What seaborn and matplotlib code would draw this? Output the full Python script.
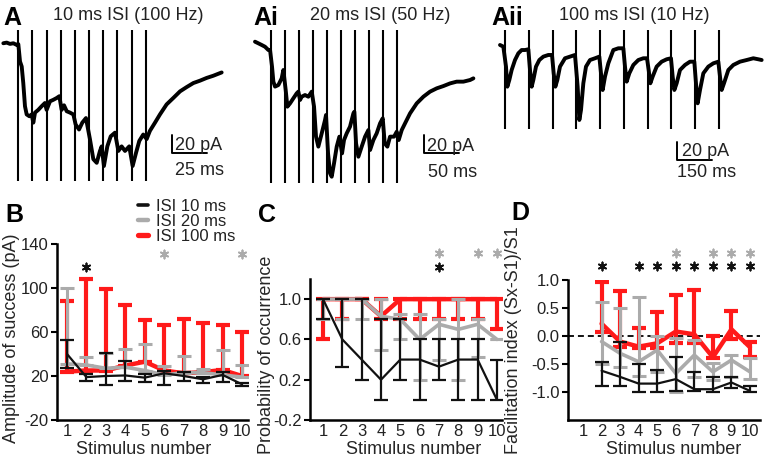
import pandas as pd
import seaborn as sns
import matplotlib.pyplot as plt
from matplotlib.lines import Line2D
from matplotlib.transforms import offset_copy

W, H = 766, 468

RED = "#ff1a1a"
GRAY = "#ababab"
BLACK = "#111111"
TXT = "#222222"

# ---- example recordings (time in ms, current in pA) ----
stim_a = [0, 10, 20, 30, 40, 50, 60, 70, 80, 90]
trace_a_t = [-10.6, -8.2, -5.9, -3.5, -1.2, 0, 1.2, 2.4, 3.5, 4.7, 5.9, 7.8, 9.4, 10.6, 11.8,
             14.1, 16.5, 18.8, 20, 22.4, 24.7, 27.1, 29, 30.6, 32.3, 34.2, 36.5, 38.9, 40.5,
             42.9, 45.2, 47.8, 50.6, 53, 55.4, 57.7, 58.9, 60.5, 62.9, 65.3, 68.3, 70.7, 73,
             75.4, 78.4, 80.8, 83.2, 85.5, 88.3, 90.7, 93, 96.6, 100.1, 104.8, 109.5, 114.3,
             119, 123.7, 128.4, 133.1, 137.8, 143.7]
trace_a_i = [0, 0.7, -0.7, 0, -1.8, -1, -20, -25.5, -43.6, -69, -78, -80, -78, -87, -76,
             -73, -69, -65.5, -73, -63.6, -62, -60, -58, -73, -68, -74.5, -76, -78, -89,
             -94.5, -87, -82, -105, -127, -131, -118, -113, -134.5, -113, -102, -98, -118, -113,
             -118, -113, -134.5, -120, -107, -100, -105, -96, -87, -78, -67, -60, -52.7,
             -48, -43.6, -41, -38, -35.6, -32]

stim_ai = [0, 20, 40, 60, 80, 100, 120, 140, 160, 180]
trace_ai_t = [-22.3, -17.5, -12.8, -8.1, -3.3, -0.9, 1.9, 3.8, 6.2, 10.9, 15.6, 18, 21.3, 23.7,
              27.5, 32.2, 36.9, 39.3, 41.7, 44.1, 48.8, 53.5, 58.3, 61.6, 64.4, 67.7, 72.5,
              77.2, 78.6, 81.5, 84.3, 86.7, 90, 93.8, 97.6, 101.4, 104.2, 108, 112.7, 117.5,
              118.9, 121.3, 124.6, 129.3, 134.1, 138.8, 141.2, 145.9, 150.6, 155.4, 159.2, 162,
              165.8, 169.6, 175.3, 179.1, 181.9, 186.2, 190.9, 198, 207.5, 217, 226.4, 235.9,
              245.4, 254.9, 264.3, 273.8, 283.3, 288]
trace_ai_i = [0, -1.8, -3.6, -5.5, -9.1, -9.1, -27.3, -43.6, -49, -47.3, -40, -30.9, -52.7, -70.9,
              -67.3, -61.8, -56.4, -54.5, -63.6, -60, -58.2, -60, -54.5, -70.9, -103.6, -114.5,
              -100, -85.5, -80, -121.8, -143.6, -147.3, -132.7, -114.5, -103.6, -121.8, -107.3,
              -100, -92.7, -78.2, -76.4, -110.9, -125.5, -114.5, -103.6, -96.4, -118.2, -107.3,
              -100, -89.1, -83.6, -110.9, -114.5, -103.6, -103.6, -98.2, -107.3, -96.4, -89.1,
              -78.2, -67.3, -60, -54.5, -50.9, -48.4, -45.5, -43.6, -43.6, -41.8, -40]

stim_aii = [0, 100, 200, 300, 400, 500, 600, 700, 800, 900]
trace_aii_t = [-21, -7, 4.2, 9.8, 18.2, 28, 42.1, 56.1, 70.1, 84.2, 98.2, 105.2, 112.2, 119.2,
               130.4, 144.5, 161.3, 182.3, 197.8, 204.8, 211.8, 220.2, 231.4, 252.5, 273.5,
               294.5, 305.7, 312.8, 319.8, 329.6, 340.8, 357.6, 378.7, 396.9, 403.9, 410.9,
               420.8, 434.8, 455.8, 476.9, 497.9, 504.9, 511.9, 523.1, 540, 561, 582, 597.5,
               604.5, 611.5, 621.3, 638.1, 659.2, 680.2, 698.4, 705.5, 712.5, 722.3, 736.3,
               757.4, 778.4, 796.6, 803.6, 810.6, 820.5, 834.5, 855.5, 876.6, 897.6, 904.6,
               911.6, 921.4, 939.7, 960.7, 988.8, 1016.8, 1044.9, 1065.9, 1079.9]
trace_aii_i = [0, -1.8, -23.6, -45.5, -38.2, -27.3, -16.4, -9.1, -5.5, -5.5, -4.7, -27.3, -45.5,
               -38.2, -23.6, -16.4, -12.7, -10.9, -10.9, -30.9, -45.5, -38.2, -23.6, -14.5,
               -12.7, -10.9, -45.5, -81.8, -70.9, -41.8, -23.6, -16.4, -14.5, -12.7, -30.9,
               -49.1, -34.5, -20, -5.5, -3.6, -3.6, -23.6, -40, -30.9, -21.8, -16.4, -14.5,
               -14.5, -27.3, -41.8, -34.5, -23.6, -18.2, -15.6, -14.5, -34.5, -49.1, -41.8,
               -27.3, -21.8, -18.2, -18.2, -41.8, -63.6, -49.1, -30.9, -23.6, -20, -18.2,
               -34.5, -49.1, -41.8, -27.3, -21.8, -18.2, -16.4, -14.5, -15.6, -16.4]

# ---- summary data ----
stim = [1, 2, 3, 4, 5, 6, 7, 8, 9, 10]
stim_d = [2, 3, 4, 5, 6, 7, 8, 9, 10]
isi_labels = ["ISI 10 ms", "ISI 20 ms", "ISI 100 ms"]

# B: amplitude of success (pA)
b_10_mean = [40, 19, 20, 20.5, 18.5, 22.5, 20, 17, 21, 12.5]
b_10_lo = [27, 15.5, 11.5, 15.5, 14.5, 11.5, 15.5, 14, 14.5, 11]
b_10_hi = [53, 22, 40.5, 33.5, 22, 25, 24, 19, 23.5, 14]
b_20_mean = [31, 30, 27, 28, 25, 21, 23, 23, 21, 19]
b_20_hi = [100, 37.5, 41, 45, 49, 29, 38.5, 26.5, 43.5, 30]
b_100_mean = [24, 25, 25, 29.5, 33, 25, 22.5, 23.5, 25.5, 20]
b_100_hi = [88, 108, 99, 85, 71, 66, 71.5, 68, 66, 60]

# C: probability of occurrence
c_10_mean = [1.0, 0.6, 0.4, 0.2, 0.4, 0.4, 0.33, 0.4, 0.4, 0.0]
c_10_lo = [0.8, 0.33, 0.2, 0.0, 0.2, 0.0, 0.2, 0.0, 0.0, 0.0]
c_10_hi = [1.0, 1.0, 1.0, 0.8, 0.8, 0.6, 0.6, 0.6, 0.6, 0.4]
c_20_mean = [1.0, 1.0, 1.0, 0.83, 0.8, 0.6, 0.75, 0.7, 0.75, 0.6]
c_20_lo = [0.8, 0.8, 0.8, 0.5, 0.6, 0.2, 0.4, 0.2, 0.43, 0.6]
c_20_hi = [1.0, 1.0, 1.0, 1.0, 0.85, 0.85, 0.8, 1.0, 0.8, 0.6]
c_100_mean = [1.0, 1.0, 1.0, 0.83, 1.0, 1.0, 1.0, 1.0, 1.0, 1.0]
c_100_lo = [0.6, 0.8, 1.0, 0.8, 0.8, 0.8, 0.8, 0.8, 0.8, 0.7]
c_100_hi = [1.0, 1.0, 1.0, 1.0, 1.0, 1.0, 1.0, 1.0, 1.0, 1.0]

# D: facilitation index (Sx-S1)/S1, stimuli 2-10
d_10_mean = [-0.62, -0.73, -0.85, -0.85, -0.77, -0.95, -0.95, -0.83, -0.98]
d_10_lo = [-0.89, -0.9, -1.0, -1.0, -0.99, -0.98, -1.0, -0.93, -1.0]
d_10_hi = [-0.46, -0.1, -0.5, -0.61, -0.37, -0.65, -0.73, -0.73, -0.9]
d_20_mean = [-0.1, -0.31, -0.46, -0.25, -0.67, -0.34, -0.64, -0.43, -0.64]
d_20_lo = [-0.5, -0.55, -0.71, -0.64, -1.0, -0.74, -0.79, -0.73, -0.76]
d_20_hi = [0.6, 0.5, 0.7, 0.0, -0.04, -0.07, -0.48, -0.34, -0.4]
d_100_mean = [0.22, -0.1, -0.19, -0.13, 0.08, 0.03, -0.38, 0.12, -0.2]
d_100_lo = [0.08, -0.2, -0.22, -0.22, -0.12, -0.12, -0.4, -0.06, -0.37]
d_100_hi = [0.97, 0.8, 0.14, 0.43, 0.73, 0.83, 0.0, 0.45, -0.1]

# significance marks (stimulus numbers)
stars_b = {"10": [2], "20": [6, 10]}
stars_c = {"10": [7], "20": [7, 9, 10]}
stars_d = {"10": [2, 4, 5, 6, 7, 8, 9, 10], "20": [6, 8, 9, 10]}

sns.set_theme(style="ticks")
plt.rcParams["font.family"] = ["Liberation Sans", "DejaVu Sans"]
plt.rcParams["axes.unicode_minus"] = False
plt.rcParams["text.color"] = TXT
plt.rcParams["xtick.labelcolor"] = TXT
plt.rcParams["ytick.labelcolor"] = TXT

fig = plt.figure(figsize=(W / 100, H / 100), dpi=100)


def rect(x0, y0, x1, y1):
    # pixel box -> figure fraction
    return [x0 / W, 1 - y1 / H, (x1 - x0) / W, (y1 - y0) / H]


def draw_trace(box, t, cur, stims, art, xlim, ylim, bar, bar_ms, pa_off, ms_off):
    ax = fig.add_axes(rect(*box))
    sns.lineplot(x=t, y=cur, ax=ax, color="black", lw=2.8, sort=False, estimator=None)
    ax.vlines(stims, art[1], art[0], color="black", lw=1.5)
    bt, bi = bar
    ax.plot([bt, bt, bt + bar_ms], [bi + 20, bi, bi], color="black", lw=1.4)
    ax.text(bt, bi, "20 pA", fontsize=13, ha="left", va="center",
            transform=offset_copy(ax.transData, fig=fig, x=pa_off[0], y=pa_off[1], units="dots"))
    ax.text(bt, bi, f"{bar_ms} ms", fontsize=13, ha="left", va="center",
            transform=offset_copy(ax.transData, fig=fig, x=ms_off[0], y=ms_off[1], units="dots"))
    ax.set_xlim(xlim)
    ax.set_ylim(ylim)
    ax.axis("off")


draw_trace((0, 25, 230, 190), trace_a_t, trace_a_i, stim_a, (14.5, -151),
           (-12.95, 149.6), (-160.8, 20), (108.4, -120.1), 25, (3.5, 7), (3.5, -18))
draw_trace((250, 25, 480, 190), trace_ai_t, trace_ai_i, stim_ai, (12.7, -153.8),
           (-29.4, 297.4), (-161.8, 18.2), (217.9, -121.8), 50, (3.3, 6.6), (4.3, -19))
draw_trace((498, 25, 766, 190), trace_aii_t, trace_aii_i, stim_aii, (16.4, -92),
           (-29.45, 1098.2), (-158.2, 21.8), (722.4, -125.5), 150, (5, 8.3), (0, -12))


def draw_series(ax, x, mean, lo, hi, color, lw, elw, z):
    lo = mean if lo is None else lo
    yerr = [[m - l for m, l in zip(mean, lo)], [h - m for m, h in zip(mean, hi)]]
    ax.errorbar(x, mean, yerr=yerr, fmt="none", ecolor=color, elinewidth=elw,
                capsize=5, capthick=elw, zorder=z)
    sns.lineplot(x=x, y=mean, ax=ax, color=color, lw=lw, zorder=z, estimator=None)


def style_axis(ax, xlim, ylim, yticks, yticklabels, ylab, ylab_xy, xlab_xy):
    ax.set_xlim(xlim)
    ax.set_ylim(ylim)
    ax.set_xticks(stim)
    ax.set_xticklabels([str(s) for s in stim])
    ax.set_yticks(yticks)
    ax.set_yticklabels(yticklabels)
    sns.despine(ax=ax)
    for s in ("left", "bottom"):
        ax.spines[s].set_linewidth(1.8)
        ax.spines[s].set_color("black")
    ax.tick_params(axis="y", length=4, width=1.5, labelsize=12, pad=2, color="black")
    ax.tick_params(axis="x", length=0, labelsize=12, pad=3)
    ax.set_xlabel("Stimulus number", fontsize=13)
    ax.xaxis.set_label_coords(*xlab_xy)
    ax.set_ylabel(ylab, fontsize=13)
    ax.yaxis.set_label_coords(*ylab_xy)


def draw_stars(ax, xs, y, color):
    # six-armed asterisks marking significant stimuli
    ax.scatter(xs, [y] * len(xs), marker=(6, 2, 0), s=34, color=color,
               linewidths=1.3, clip_on=False, zorder=5)


# B
ax_b = fig.add_axes(rect(57, 244, 248, 420))
draw_series(ax_b, stim, b_100_mean, None, b_100_hi, RED, 3.2, 3.0, 2)
draw_series(ax_b, stim, b_20_mean, None, b_20_hi, GRAY, 2.6, 2.2, 3)
draw_series(ax_b, stim, b_10_mean, b_10_lo, b_10_hi, BLACK, 1.6, 1.6, 4)
style_axis(ax_b, (0.486, 10.31), (-20, 140), [-20, 20, 60, 100, 140],
           ["-20", "20", "60", "100", "140"], "Amplitude of success (pA)",
           (-0.194, 0.466), (0.455, -0.122))
draw_stars(ax_b, stars_b["10"], 119, BLACK)
draw_stars(ax_b, stars_b["20"], 131, GRAY)

# C
ax_c = fig.add_axes(rect(310, 279, 502, 420))
draw_series(ax_c, stim, c_100_mean, c_100_lo, c_100_hi, RED, 3.2, 3.0, 2)
draw_series(ax_c, stim, c_20_mean, c_20_lo, c_20_hi, GRAY, 2.6, 2.2, 3)
draw_series(ax_c, stim, c_10_mean, c_10_lo, c_10_hi, BLACK, 1.6, 1.6, 4)
style_axis(ax_c, (0.327, 10.26), (-0.2, 1.2), [-0.2, 0.2, 0.6, 1.0],
           ["-0.2", "0.2", "0.6", "1.0"], "Probability of occurrence",
           (-0.182, 0.461), (0.54, -0.152))
draw_stars(ax_c, stars_c["10"], 1.32, BLACK)
draw_stars(ax_c, stars_c["20"], 1.46, GRAY)

# D
ax_d = fig.add_axes(rect(568, 280, 760, 420))
ax_d.axhline(0, color="black", lw=1.3, ls=(0, (3.3, 2.2)), zorder=1)
draw_series(ax_d, stim_d, d_100_mean, d_100_lo, d_100_hi, RED, 3.2, 3.0, 2)
draw_series(ax_d, stim_d, d_20_mean, d_20_lo, d_20_hi, GRAY, 2.6, 2.2, 3)
draw_series(ax_d, stim_d, d_10_mean, d_10_lo, d_10_hi, BLACK, 1.6, 1.6, 4)
style_axis(ax_d, (0.19, 10.54), (-1.5, 1.0), [-1.0, -0.5, 0.0, 0.5, 1.0],
           ["-1.0", "-0.5", "0.0", "0.5", "1.0"], "Facilitation index (Sx-S1)/S1",
           (-0.24, 0.571), (0.55, -0.152))
draw_stars(ax_d, stars_d["10"], 1.25, BLACK)
draw_stars(ax_d, stars_d["20"], 1.48, GRAY)

# legend for B
handles = [Line2D([], [], color=BLACK, lw=2.6), Line2D([], [], color=GRAY, lw=3.2),
           Line2D([], [], color=RED, lw=3.8)]
fig.legend(handles, isi_labels, loc="upper left", bbox_to_anchor=(138 / W, 1 - 199 / H),
           frameon=False, fontsize=12, handlelength=0.6, handletextpad=0.45,
           labelspacing=0.0, borderpad=0, borderaxespad=0)

# panel letters and titles
for letter, x, y in [("A", 3, 25), ("Ai", 253, 25), ("Aii", 491, 25),
                     ("B", 5, 222), ("C", 258, 222), ("D", 511, 220)]:
    fig.text(x / W, 1 - y / H, letter, fontsize=18, fontweight="bold", color="black",
             ha="left", va="baseline")
for title, x in [("10 ms ISI (100 Hz)", 128), ("20 ms ISI (50 Hz)", 380),
                 ("100 ms ISI (10 Hz)", 634)]:
    fig.text(x / W, 1 - 15 / H, title, fontsize=13, ha="center", va="center")

fig.savefig("out.png", dpi=100)
